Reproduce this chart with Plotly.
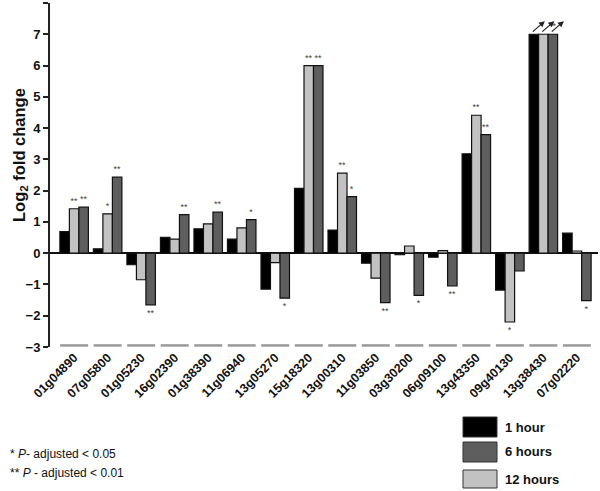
import plotly.graph_objects as go

# gene ids on the x axis
genes = ['01g04890', '07g05800', '01g05230', '16g02390', '01g38390', '11g06940',
         '13g05270', '15g18320', '13g00310', '11g03850', '03g30200', '06g09100',
         '13g43350', '09g40130', '13g38430', '07g02220']

# log2 fold change per time point (13g38430 is off the scale, drawn capped at 7)
fc_1h = [0.69, 0.14, -0.37, 0.51, 0.78, 0.45, -1.15, 2.07, 0.74, -0.32, -0.05, -0.13,
         3.18, -1.18, 7.0, 0.64]
fc_12h = [1.42, 1.26, -0.85, 0.45, 0.94, 0.81, -0.30, 6.0, 2.56, -0.80, 0.23, 0.08,
          4.41, -2.20, 7.0, 0.07]
fc_6h = [1.47, 2.43, -1.65, 1.23, 1.31, 1.07, -1.44, 6.0, 1.81, -1.58, -1.35, -1.05,
         3.79, -0.57, 7.0, -1.52]

# significance marks
sig_1h = [''] * 16
sig_12h = ['**', '*', '', '', '', '', '', '**', '**', '', '', '', '**', '*', '', '']
sig_6h = ['**', '**', '**', '**', '**', '*', '*', '**', '*', '**', '*', '**', '**', '', '**', '*']

capped = ['13g38430']

FONT = 'Liberation Sans, Arial, sans-serif'
BARGAP = 0.15

series = [
    ('1 hour', fc_1h, sig_1h, '#000000'),
    ('12 hours', fc_12h, sig_12h, '#c2c2c2'),
    ('6 hours', fc_6h, sig_6h, '#5e5e5e'),
]

fig = go.Figure()
for name, vals, sig, col in series:
    fig.add_trace(go.Bar(
        x=genes, y=vals, name=name, marker_color=col,
        marker_line=dict(color='#111111', width=1.2),
        text=sig, textposition='outside', constraintext='none', cliponaxis=False,
        textfont=dict(size=9, color='#444444', family=FONT),
        showlegend=False,
    ))

# grey underline segment below each gene
fig.add_trace(go.Scatter(
    x=genes, y=[-2.95] * len(genes), mode='markers', cliponaxis=False,
    marker=dict(symbol='line-ew-open', size=20, color='#9a9a9a',
                line=dict(color='#9a9a9a', width=2.5)),
    showlegend=False, hoverinfo='skip',
))

# arrows on the capped bars
w = (1 - BARGAP) / 3
for g in capped:
    i = genes.index(g)
    for k in range(3):
        left = i - (1 - BARGAP) / 2 + k * w
        fig.add_annotation(x=left + 0.47, y=7.42, ax=left + 0.02, ay=7.0,
                           xref='x', yref='y', axref='x', ayref='y',
                           showarrow=True, arrowhead=2, arrowsize=1, arrowwidth=1.2,
                           arrowcolor='#222222', text=' ')

# legend drawn by hand to get the big swatches
legend = [('1 hour', '#000000', 417, 437), ('6 hours', '#5e5e5e', 442, 462),
          ('12 hours', '#c2c2c2', 470, 488)]
H = 491


def py(px):
    # window pixel row -> paper y
    return (H - 144 - px) / 344


def pxx(px):
    return (px - 50) / 548


for label, col, y0, y1 in legend:
    fig.add_shape(type='rect', xref='paper', yref='paper',
                  x0=pxx(463), x1=pxx(497), y0=py(y1), y1=py(y0),
                  fillcolor=col, line=dict(color='#333333', width=1))
    fig.add_annotation(xref='paper', yref='paper', x=pxx(503), y=py((y0 + y1) / 2),
                       text='<b>%s</b>' % label, showarrow=False,
                       xanchor='left', yanchor='middle',
                       font=dict(size=13, color='#111111', family=FONT))

notes = [('* <i>P</i>- adjusted &lt; 0.05', 454), ('** <i>P</i> - adjusted &lt; 0.01', 473)]
for txt, yy in notes:
    fig.add_annotation(xref='paper', yref='paper', x=pxx(8), y=py(yy), text=txt,
                       showarrow=False, xanchor='left', yanchor='middle',
                       font=dict(size=12, color='#111111', family=FONT))

# y title as rotated annotation (sits a bit above the axis centre in the original)
fig.add_annotation(xref='paper', yref='paper', x=pxx(20), y=py(155),
                   text='<b>Log<sub>2</sub> fold change</b>', textangle=-90,
                   showarrow=False, xanchor='center', yanchor='middle',
                   font=dict(size=16.5, color='#111111', family=FONT))

fig.update_layout(
    width=600, height=491,
    margin=dict(l=50, r=2, t=3, b=144, autoexpand=False),
    barmode='group', bargap=BARGAP, bargroupgap=0,
    plot_bgcolor='white', paper_bgcolor='white',
    font=dict(family=FONT, color='#111111'),
    showlegend=False,
    xaxis=dict(
        range=[-0.72, 15.63], showline=False, showgrid=False, ticks='',
        automargin=False,
        tickangle=-45, tickfont=dict(size=12.5, family=FONT, color='#111111'),
        tickprefix='<b>', ticksuffix='</b>',
    ),
    yaxis=dict(
        range=[-3, 8], dtick=1, showgrid=False, automargin=False,
        showline=True, linecolor='#222222', linewidth=2,
        ticks='outside', ticklen=5, tickwidth=1.5, tickcolor='#222222',
        tickfont=dict(size=13, family=FONT, color='#111111'),
        tickprefix='<b>', ticksuffix='</b>',
        zeroline=True, zerolinecolor='#111111', zerolinewidth=1.5,
    ),
)

# page body has a default 8px margin; drop it so the figure fills the window
fig.write_html('out.html', config={'displayModeBar': False},
               post_script="document.body.style.margin='0';")
